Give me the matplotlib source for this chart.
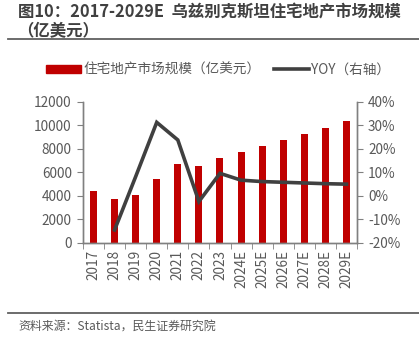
import matplotlib
matplotlib.use('Agg')
import matplotlib.pyplot as plt
import numpy as np
from matplotlib.ticker import FuncFormatter, FixedLocator
from matplotlib.patches import Patch
from matplotlib.lines import Line2D

plt.rcParams['font.family'] = ['Noto Sans CJK SC', 'DejaVu Sans']

years = ['2017', '2018', '2019', '2020', '2021', '2022', '2023',
         '2024E', '2025E', '2026E', '2027E', '2028E', '2029E']
market = [4400, 3750, 4070, 5400, 6700, 6540, 7220,
          7730, 8230, 8740, 9250, 9760, 10350]
yoy = [None, -14.5, 8.2, 31.3, 23.8, -2.4, 9.6,
       6.7, 6.1, 5.8, 5.5, 5.2, 5.0]

bar_color = '#C00000'
line_color = '#404040'
text_color = '#595959'
spine_color = '#808080'

fig = plt.figure(figsize=(4.19, 3.49), dpi=100)
ax = fig.add_axes([0.198, 0.304, 0.654, 0.404])
ax2 = ax.twinx()

x = np.arange(len(years))
ax.bar(x, market, width=0.33, color=bar_color, zorder=2)

yx = [i for i, v in enumerate(yoy) if v is not None]
yv = [v for v in yoy if v is not None]
ax2.plot(yx, yv, color=line_color, lw=2.6, solid_joinstyle='miter', zorder=3)

ax.set_xlim(-0.5, len(years) - 0.5)
ax.set_ylim(0, 12000)
ax.set_yticks(range(0, 12001, 2000))
ax2.set_ylim(-20, 40)
ax2.set_yticks(range(-20, 41, 10))
ax2.yaxis.set_major_formatter(FuncFormatter(lambda v, p: '%d%%' % v))

ax.set_xticks(x)
ax.set_xticklabels(years, rotation=90)
ax.xaxis.set_minor_locator(FixedLocator(np.arange(-0.5, len(years), 1)))
ax.tick_params(axis='x', which='major', length=0, pad=5)
ax.tick_params(axis='x', which='minor', length=4, color=spine_color, direction='out')

for a in (ax, ax2):
    a.spines['top'].set_visible(False)
    for s in ('left', 'right', 'bottom'):
        a.spines[s].set_color(spine_color)
        a.spines[s].set_linewidth(1.0)
    a.tick_params(labelsize=9.8, colors=text_color)
    a.tick_params(axis='y', length=4, color=spine_color, pad=4)
ax.set_zorder(ax2.get_zorder() - 1)
ax.patch.set_visible(False)
ax2.patch.set_visible(False)

# title
fig.text(0.042, 0.963, '图10：2017-2029E  乌兹别克斯坦住宅地产市场规模',
         fontsize=11.8, fontweight='bold', color='#404040', va='center')
fig.text(0.042, 0.912, '（亿美元）', fontsize=11.8, fontweight='bold',
         color='#404040', va='center')
fig.add_artist(Line2D([0.02, 1.0], [0.888, 0.888], color='#606060', lw=1.3))

# legend
handles = [Patch(color=bar_color, label='住宅地产市场规模（亿美元）'),
           Line2D([0], [0], color=line_color, lw=2.6, label='YOY（右轴）')]
fig.legend(handles=handles, loc='center', bbox_to_anchor=(0.52, 0.8), ncol=2,
           frameon=False, fontsize=9.8, handlelength=2.6, handleheight=0.6,
           handletextpad=0.15, columnspacing=1.0, labelcolor=text_color)

# bottom line and source
fig.add_artist(Line2D([0.02, 1.0], [0.103, 0.103], color='#606060', lw=1.3))
fig.text(0.043, 0.066, '资料来源：Statista，民生证券研究院', fontsize=8.6,
         color=text_color, va='center')

fig.savefig('out.png', dpi=100)
